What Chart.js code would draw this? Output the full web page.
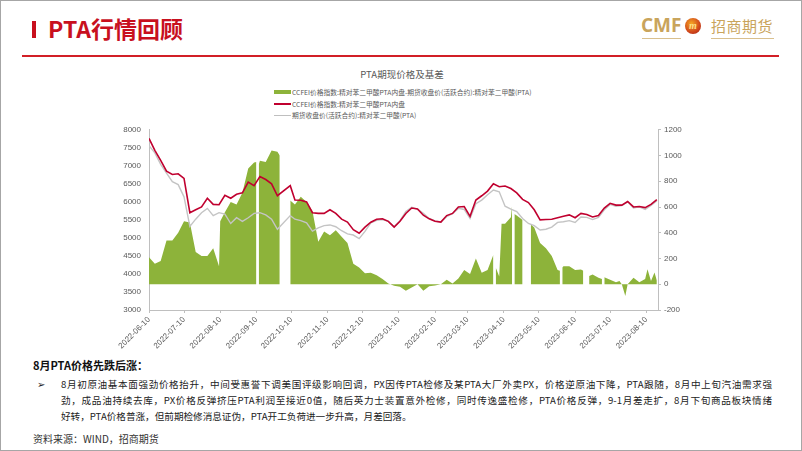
<!DOCTYPE html>
<html>
<head>
<meta charset="utf-8">
<script src="https://cdn.jsdelivr.net/npm/chart.js@4.4.0/dist/chart.umd.min.js"></script>
<style>
  body { margin: 0; background: #fff; }
  #page {
    position: relative; width: 802px; height: 451px; overflow: hidden;
    background: #fff; box-sizing: border-box; border: 1px solid #a6a6a6;
    font-family: "Noto Sans CJK SC", "Noto Sans", sans-serif;
  }
  .abs { position: absolute; white-space: nowrap; }
  #title { left: 47px; top: 12px; font-size: 23px; font-weight: bold; color: #c8101e; line-height: 30px; }
  #titleBar { left: 31px; top: 20px; width: 4px; height: 17px; background: #c8101e; }
  #titleLine { left: 21px; top: 54px; width: 757px; height: 2px; background: #d21f26; }
  #cmf { left: 640px; top: 12px; font-family: "Open Sans", "Liberation Sans", sans-serif; font-size: 19px; font-weight: bold; color: #c9a45c; line-height: 24px; }
  #emblem { left: 684px; top: 17px; width: 16px; height: 16px; border-radius: 50%;
    background: radial-gradient(circle at 40% 35%, #f5a623, #d0461b 60%, #9c1b10);
    color: #ffe08a; font: italic bold 10px "Liberation Serif", serif; text-align: center; line-height: 16px; }
  #cmfcn { left: 710px; top: 14px; font-size: 15px; color: #c9a45c; line-height: 22px; letter-spacing: 0.5px; }
  .uline { height: 1px; background: #d9c08e; top: 37px; }
  #chartTitle { left: 0; width: 802px; top: 66px; text-align: center; font-size: 9.5px; color: #595959; }
  .leg { left: 291px; font-size: 6.75px; color: #595959; line-height: 10px; }
  .sw { left: 273px; width: 17px; }
  #heading { left: 32px; top: 356px; font-size: 11px; font-weight: bold; color: #111; }
  #bullet { left: 36px; top: 375px; font-size: 10px; color: #222; }
  .para { left: 60px; width: 711px; font-size: 9.6px; color: #222; line-height: 16px; text-align: justify; text-align-last: justify; }
  #source { left: 32px; top: 430px; font-size: 10px; color: #333; }
  #chartCanvas { position: absolute; left: 80px; top: 116px; }
</style>
</head>
<body>
<div id="page">
  <div class="abs" id="titleBar"></div>
  <div class="abs" id="title">PTA行情回顾</div>
  <div class="abs" id="titleLine"></div>

  <div class="abs" id="cmf">CMF</div>
  <div class="abs" id="emblem">m</div>
  <div class="abs" id="cmfcn">招商期货</div>
  <div class="abs uline" style="left:641px;width:39px;"></div>
  <div class="abs uline" style="left:710px;width:63px;"></div>

  <div class="abs" id="chartTitle">PTA期现价格及基差</div>
  <div class="abs sw" style="top:89px;height:4px;background:#8db33a;"></div>
  <div class="abs leg" style="top:86px;">CCFEI价格指数:精对苯二甲酸PTA内盘-期货收盘价(活跃合约):精对苯二甲酸(PTA)</div>
  <div class="abs sw" style="top:102px;height:2px;background:#c0002f;"></div>
  <div class="abs leg" style="top:98px;">CCFEI价格指数:精对苯二甲酸PTA内盘</div>
  <div class="abs sw" style="top:114px;height:1px;background:#bfbfbf;"></div>
  <div class="abs leg" style="top:109px;">期货收盘价(活跃合约):精对苯二甲酸(PTA)</div>

  <canvas id="chartCanvas" width="640" height="234"></canvas>

  <div class="abs" id="heading">8月PTA价格先跌后涨：</div>
  <div class="abs" id="bullet">➢</div>
  <div class="abs para" style="top:375px;">8月初原油基本面强劲价格抬升，中间受惠誉下调美国评级影响回调，PX因传PTA检修及某PTA大厂外卖PX，价格逆原油下降，PTA跟随，8月中上旬汽油需求强</div>
  <div class="abs para" style="top:391px;">劲，成品油持续去库，PX价格反弹挤压PTA利润至接近0值，随后英力士装置意外检修，同时传逸盛检修，PTA价格反弹，9-1月差走扩，8月下旬商品板块情绪</div>
  <div class="abs para" style="top:407px;text-align-last:left;width:auto;">好转，PTA价格普涨，但前期检修消息证伪，PTA开工负荷进一步升高，月差回落。</div>
  <div class="abs" id="source">资料来源：WIND，招商期货</div>
</div>

<script>
// dates of the readings
const dates = [
  '2022-06-10', '2022-06-15', '2022-06-20', '2022-06-25', '2022-06-30', '2022-07-05', '2022-07-10', '2022-07-15',
  '2022-07-20', '2022-07-25', '2022-07-30', '2022-08-04', '2022-08-09', '2022-08-10', '2022-08-14', '2022-08-19',
  '2022-08-24', '2022-08-29', '2022-09-03', '2022-09-08', '2022-09-10', '2022-09-11', '2022-09-12', '2022-09-13',
  '2022-09-18', '2022-09-23', '2022-09-28', '2022-09-30', '2022-10-03', '2022-10-09', '2022-10-13', '2022-10-18',
  '2022-10-23', '2022-10-28', '2022-11-02', '2022-11-07', '2022-11-12', '2022-11-17', '2022-11-22', '2022-11-27',
  '2022-12-02', '2022-12-07', '2022-12-12', '2022-12-17', '2022-12-22', '2022-12-27', '2023-01-01', '2023-01-06',
  '2023-01-11', '2023-01-16', '2023-01-21', '2023-01-26', '2023-01-31', '2023-02-05', '2023-02-10', '2023-02-15',
  '2023-02-20', '2023-02-25', '2023-03-02', '2023-03-07', '2023-03-12', '2023-03-17', '2023-03-22', '2023-03-27',
  '2023-04-01', '2023-04-02', '2023-04-03', '2023-04-06', '2023-04-08', '2023-04-11', '2023-04-16', '2023-04-17',
  '2023-04-18', '2023-04-19', '2023-04-21', '2023-04-26', '2023-04-28', '2023-04-30', '2023-05-01', '2023-05-03',
  '2023-05-06', '2023-05-11', '2023-05-16', '2023-05-21', '2023-05-26', '2023-05-28', '2023-05-29', '2023-05-30',
  '2023-05-31', '2023-06-05', '2023-06-10', '2023-06-15', '2023-06-17', '2023-06-20', '2023-06-22', '2023-06-25',
  '2023-06-30', '2023-07-03', '2023-07-04', '2023-07-05', '2023-07-10', '2023-07-15', '2023-07-18', '2023-07-20',
  '2023-07-23', '2023-07-25', '2023-07-30', '2023-08-04', '2023-08-09', '2023-08-11', '2023-08-14', '2023-08-17',
  '2023-08-19'
];

// CCFEI价格指数:精对苯二甲酸PTA内盘 (left axis)
const spotPrice = [
  7760, 7430, 7150, 6850, 6760, 6780, 6650, 5700,
  5780, 5860, 6100, 5930, 5920, null, 6180, 6100,
  6210, 6250, 6550, 6450, null, null, null, 6700,
  6620, 6500, 6170, null, null, 6450, 6050, 6045,
  6000, 5700, 5680, 5680, 5780, 5680, 5520, 5440,
  5230, 5130, 5300, 5435, 5520, 5530, 5460, 5300,
  5460, 5680, 5830, 5805, 5630, 5530, 5460, 5440,
  5620, 5680, 5860, 5870, 5600, 6050, 6170, 6300,
  6500, null, null, 6420, null, 6440, 6370, null,
  null, null, 6250, 6070, null, null, 5980, null,
  5780, 5500, 5510, 5520, 5560, null, null, null,
  5600, 5640, 5560, 5680, null, 5650, null, 5580,
  5620, null, null, 5830, 5960, 5910, null, 5910,
  null, 6010, 5860, 5870, 5840, null, 5930, null,
  6060
];

// 期货收盘价(活跃合约):精对苯二甲酸(PTA) (left axis)
const futuresPrice = [
  7560, 7360, 7040, 6800, 6560, 6480, 6140, 5320,
  5520, 5700, 5820, 5620, 5700, null, 5660, 5400,
  5560, 5460, 5560, 5680, null, null, null, 5700,
  5640, 5520, 5240, null, null, 5620, 5520, 5480,
  5420, 5190, 5280, 5340, 5360, 5310, 5200, 5110,
  5080, 4980, 5180, 5420, 5490, 5510, 5460, 5310,
  5480, 5730, 5850, 5800, 5680, 5540, 5470, 5440,
  5590, 5675, 5820, 5790, 5540, 5950, 6050, 6200,
  6330, null, null, 6280, null, 5880, 5800, null,
  null, null, 5730, 5540, null, null, 5400, null,
  5340, 5220, 5240, 5300, 5430, null, null, null,
  5450, 5480, 5430, 5580, null, 5570, null, 5510,
  5570, null, null, 5780, 5930, 5880, null, 5900,
  null, 6000, 5830, 5860, 5790, null, 5900, null,
  6030
];

// 基差 (right axis), null = no trading
const basis = [
  210, 160, 180, 340, 340, 400, 490, 480,
  250, 220, 220, 280, 140, 490, 560, 640,
  620, 710, 900, 945, 950, null, 930, 960,
  950, 1040, 1030, 1000, null, 650, 620, 680,
  640, 570, 330, 410, 380, 420, 370, 320,
  160, 130, 85, 90, 70, 40, 5, -12,
  -20, -50, -25, 0, -50, -15, -10, 0,
  35, 5, 45, 110, 80, 200, 90, 110,
  230, null, 130, 60, 470, 470, 520, 610,
  null, 545, 535, 500, null, 597, null, 467,
  441, 320, 280, 220, 110, 105, null, 130,
  140, 140, 110, 115, 105, null, 65, 75,
  50, 40, null, 55, 35, 15, 26, 0,
  -91, 0, 50, 15, 40, 117, 26, 91,
  30
];

const tickLabels = [
  '2022-06-10', '2022-07-10', '2022-08-10', '2022-09-10', '2022-10-10', '2022-11-10', '2022-12-10', '2023-01-10',
  '2023-02-10', '2023-03-10', '2023-04-10', '2023-05-10', '2023-06-10', '2023-07-10', '2023-08-10'
];

const DAY = 86400000;
const start = Date.parse(dates[0]);
const dayOf = s => (Date.parse(s) - start) / DAY;
const tickDays = tickLabels.map(dayOf);

const toPoints = values => dates.map((d, i) => ({ x: dayOf(d), y: values[i] }));

const axisGrey = '#bfbfbf';
const tickFont = { family: 'Liberation Sans, Arial, sans-serif', size: 8 };

const ctx = document.getElementById('chartCanvas').getContext('2d');
new Chart(ctx, {
  type: 'line',
  data: {
    datasets: [
      {
        label: 'CCFEI价格指数:精对苯二甲酸PTA内盘',
        data: toPoints(spotPrice),
        yAxisID: 'y',
        borderColor: '#c0002f',
        borderWidth: 1.6,
        pointRadius: 0,
        spanGaps: true,
        fill: false
      },
      {
        label: '期货收盘价(活跃合约):精对苯二甲酸(PTA)',
        data: toPoints(futuresPrice),
        yAxisID: 'y',
        borderColor: '#c4c4c4',
        borderWidth: 1.4,
        pointRadius: 0,
        spanGaps: true,
        fill: false
      },
      {
        label: 'CCFEI价格指数:精对苯二甲酸PTA内盘-期货收盘价(活跃合约):精对苯二甲酸(PTA)',
        data: toPoints(basis),
        yAxisID: 'y1',
        borderWidth: 0,
        borderColor: 'rgba(0,0,0,0)',
        backgroundColor: '#8db33a',
        pointRadius: 0,
        spanGaps: false,
        fill: 'origin'
      }
    ]
  },
  options: {
    responsive: false,
    animation: false,
    layout: { padding: { top: 5, left: 0, right: 0, bottom: 0 } },
    plugins: { legend: { display: false }, tooltip: { enabled: false } },
    scales: {
      x: {
        type: 'linear',
        min: 0,
        max: 436,
        afterBuildTicks: scale => { scale.ticks = tickDays.map(v => ({ value: v })); },
        afterFit: scale => { scale.height = 41; },
        ticks: {
          autoSkip: false,
          minRotation: 45,
          maxRotation: 45,
          color: '#595959',
          font: tickFont,
          padding: 2,
          callback: (value, index) => tickLabels[index]
        },
        grid: { drawOnChartArea: false, drawTicks: true, tickLength: 3, color: axisGrey },
        border: { color: axisGrey }
      },
      y: {
        position: 'left',
        min: 3000,
        max: 8000,
        afterFit: scale => { scale.width = 68; },
        ticks: { stepSize: 500, color: '#595959', font: tickFont, padding: 8, callback: v => String(v) },
        grid: { drawOnChartArea: false, drawTicks: false, color: axisGrey },
        border: { color: axisGrey }
      },
      y1: {
        position: 'right',
        min: -200,
        max: 1200,
        afterFit: scale => { scale.width = 63; },
        ticks: { stepSize: 200, color: '#595959', font: tickFont, padding: 3, callback: v => String(v) },
        grid: { drawOnChartArea: false, drawTicks: true, tickLength: 3, color: axisGrey },
        border: { color: axisGrey }
      }
    }
  }
});
</script>
</body>
</html>
